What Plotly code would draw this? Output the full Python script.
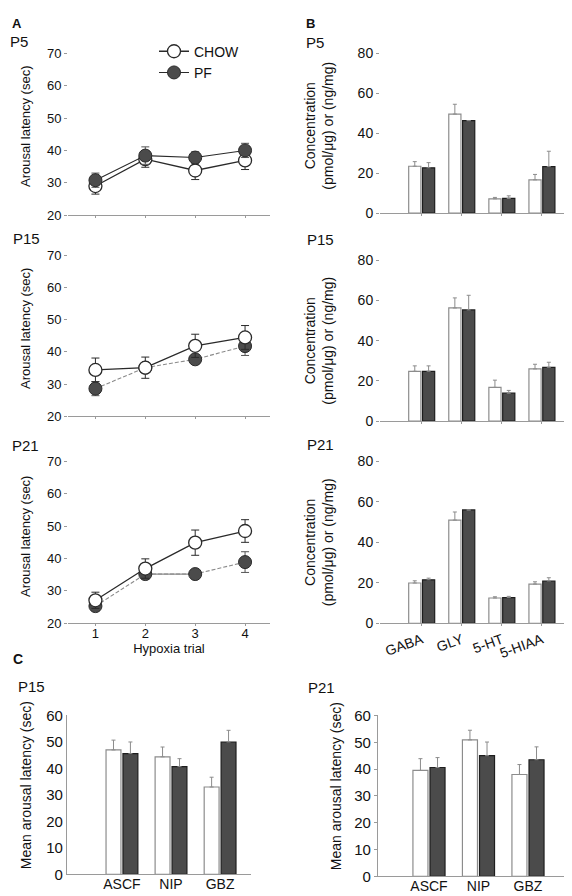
import plotly.graph_objects as go

# ---------------- data ----------------
trials = [1, 2, 3, 4]
# Panel A: arousal latency (sec)
p5_chow = [29.0, 37.3, 33.8, 36.9]
p5_chow_err = [2.5, 2.5, 2.8, 2.8]
p5_pf = [30.8, 38.4, 37.8, 40.0]
p5_pf_err = [2.2, 2.7, 1.8, 2.2]

p15_chow = [34.4, 35.1, 41.9, 44.5]
p15_chow_err = [3.7, 3.3, 3.6, 3.7]
p15_pf = [28.6, 35.1, 37.7, 41.8]
p15_pf_err = [2.2, 1.0, 1.5, 2.9]

p21_chow = [27.1, 36.9, 44.9, 48.5]
p21_chow_err = [2.5, 3.0, 3.9, 3.5]
p21_pf = [25.3, 35.2, 35.2, 38.9]
p21_pf_err = [1.0, 1.5, 0.5, 3.2]

# Panel B: concentrations
analytes = ["GABA", "GLY", "5-HT", "5-HIAA"]
b5_chow = [23.5, 49.6, 7.2, 16.7]
b5_chow_err = [2.3, 4.9, 0.7, 2.7]
b5_pf = [22.7, 46.3, 7.4, 23.3]
b5_pf_err = [2.6, 0.0, 1.3, 7.7]

b15_chow = [24.8, 56.3, 16.8, 26.0]
b15_chow_err = [2.7, 5.0, 3.6, 2.3]
b15_pf = [24.8, 55.3, 13.9, 26.8]
b15_pf_err = [2.7, 7.3, 1.4, 2.5]

b21_chow = [19.9, 51.0, 12.5, 19.4]
b21_chow_err = [1.1, 4.0, 0.6, 1.1]
b21_pf = [21.5, 56.0, 12.7, 20.9]
b21_pf_err = [0.8, 0.0, 0.6, 1.6]

# Panel C: mean arousal latency
drugs = ["ASCF", "NIP", "GBZ"]
c15_chow = [47.0, 44.4, 33.0]
c15_chow_err = [3.7, 3.7, 3.7]
c15_pf = [45.6, 40.7, 50.0]
c15_pf_err = [4.4, 3.0, 4.4]

c21_chow = [39.5, 50.9, 38.0]
c21_chow_err = [4.4, 3.6, 3.7]
c21_pf = [40.6, 45.0, 43.5]
c21_pf_err = [3.7, 5.1, 4.8]

# ---------------- styling ----------------
FONT = "Liberation Sans, Arial, sans-serif"
AXC = "#9a9a9a"
DARK = "#2a2a2a"
PFC = "#4b4b4b"
GREYLINE = "#8a8a8a"
W, H = 572, 896


def px_x(a, b):
    return [a / W, b / W]


def px_y(top, bottom):
    return [1 - bottom / H, 1 - top / H]


fig = go.Figure()


def line_traces(idx, chow, chow_err, pf, pf_err, pf_dash, pf_color, pf_first, legend, solid_seg=None):
    xa = "x" if idx == 1 else f"x{idx}"
    ya = "y" if idx == 1 else f"y{idx}"
    chow_tr = go.Scatter(
        x=trials, y=chow, mode="lines+markers", name="CHOW",
        showlegend=legend, legendrank=1,
        line=dict(color=DARK, width=1.3),
        marker=dict(size=13, color="white", line=dict(color=DARK, width=1.3)),
        error_y=dict(type="data", array=chow_err, color=DARK, thickness=1, width=4),
        xaxis=xa, yaxis=ya, cliponaxis=False,
    )
    pf_tr = go.Scatter(
        x=trials, y=pf, mode="lines+markers", name="PF",
        showlegend=legend, legendrank=2,
        line=dict(color=pf_color, width=1.1, dash=pf_dash),
        marker=dict(size=13, color=PFC, line=dict(color=DARK, width=1)),
        error_y=dict(type="data", array=pf_err, color="#555555", thickness=1, width=4),
        xaxis=xa, yaxis=ya, cliponaxis=False,
    )
    if pf_first:
        if solid_seg is not None:
            a, b = solid_seg
            fig.add_trace(go.Scatter(
                x=trials[a:b], y=pf[a:b], mode="lines", showlegend=False,
                line=dict(color=GREYLINE, width=1.3), xaxis=xa, yaxis=ya,
                hoverinfo="skip"))
        fig.add_trace(pf_tr)
        fig.add_trace(chow_tr)
    else:
        fig.add_trace(chow_tr)
        fig.add_trace(pf_tr)


line_traces(1, p5_chow, p5_chow_err, p5_pf, p5_pf_err, "solid", DARK, False, True)
line_traces(2, p15_chow, p15_chow_err, p15_pf, p15_pf_err, "4px,2px", GREYLINE, True, False)
line_traces(3, p21_chow, p21_chow_err, p21_pf, p21_pf_err, "4px,2px", GREYLINE, True, False,
            solid_seg=(1, 3))


def bar_traces(idx, cats, chow, chow_err, pf, pf_err):
    xa = f"x{idx}"
    ya = f"y{idx}"
    fig.add_trace(go.Bar(
        x=cats, y=chow, name="CHOW", showlegend=False,
        marker=dict(color="white", line=dict(color="#8c8c8c", width=1.2)),
        error_y=dict(type="data", array=chow_err, arrayminus=[0] * len(cats),
                     symmetric=False, color="#8c8c8c", thickness=1, width=2),
        xaxis=xa, yaxis=ya, offsetgroup="a",
    ))
    fig.add_trace(go.Bar(
        x=cats, y=pf, name="PF", showlegend=False,
        marker=dict(color=PFC, line=dict(color="#1e1e1e", width=1.2)),
        error_y=dict(type="data", array=pf_err, arrayminus=[0] * len(cats),
                     symmetric=False, color="#8c8c8c", thickness=1, width=2),
        xaxis=xa, yaxis=ya, offsetgroup="b",
    ))


bar_traces(4, analytes, b5_chow, b5_chow_err, b5_pf, b5_pf_err)
bar_traces(5, analytes, b15_chow, b15_chow_err, b15_pf, b15_pf_err)
bar_traces(6, analytes, b21_chow, b21_chow_err, b21_pf, b21_pf_err)
bar_traces(7, drugs, c15_chow, c15_chow_err, c15_pf, c15_pf_err)
bar_traces(8, drugs, c21_chow, c21_chow_err, c21_pf, c21_pf_err)

tickA = dict(family=FONT, size=13, color="#111")
tickB = dict(family=FONT, size=14, color="#111")
tickC = dict(family=FONT, size=15, color="#111")

layout = dict(
    width=W, height=H, margin=dict(l=0, r=0, t=0, b=0),
    paper_bgcolor="white", plot_bgcolor="white",
    font=dict(family=FONT, color="#111"),
    barmode="group", bargap=0.31, bargroupgap=0.12,
    showlegend=True,
    legend=dict(x=146 / W, y=1 - 19 / H, xanchor="left", yanchor="top",
                bgcolor="rgba(0,0,0,0)", font=dict(family=FONT, size=14),
                tracegroupgap=0, itemwidth=30),
)

# Panel A axes: (top of range at 75, bottom 20)
a_domains = [px_y(20.5, 202), px_y(226.6, 407), px_y(436.5, 618)]
for i, dom in enumerate(a_domains, start=1):
    xk = "xaxis" if i == 1 else f"xaxis{i}"
    yk = "yaxis" if i == 1 else f"yaxis{i}"
    layout[xk] = dict(
        domain=px_x(60, 262), range=[0.45, 4.5], anchor="y" if i == 1 else f"y{i}",
        showline=True, linecolor=AXC, linewidth=1.2, ticks="outside", ticklen=2,
        tickcolor=AXC, tickvals=trials, showticklabels=(i == 3), showgrid=False,
        zeroline=False, tickfont=tickA, ticklabelstandoff=-4,
    )
    layout[yk] = dict(
        domain=dom, range=[20, 75], anchor="x" if i == 1 else f"x{i}",
        showline=False, ticks="outside", ticklen=3, tickcolor=AXC,
        tickvals=[20, 30, 40, 50, 60, 70], showgrid=False, zeroline=False,
        tickfont=tickA,
    )
layout["xaxis3"]["title"] = dict(text="Hypoxia trial", font=dict(family=FONT, size=13, color="#111"),
                                 standoff=0)

# Panel B axes
b_specs = [(4, px_y(21.7, 200), 87.5), (5, px_y(248, 412), 80), (6, px_y(453, 618), 80)]
for j, dom, top in b_specs:
    layout[f"xaxis{j}"] = dict(
        domain=px_x(372, 570), range=[-1.04, 3.9], anchor=f"y{j}",
        showline=True, linecolor=AXC, linewidth=1.2, ticks="outside", ticklen=2,
        tickcolor=AXC, showticklabels=(j == 6), showgrid=False, zeroline=False,
        tickfont=dict(family=FONT, size=14, color="#111"), tickangle=-20,
    )
    layout[f"yaxis{j}"] = dict(
        domain=dom, range=[0, top], anchor=f"x{j}",
        showline=False, ticks="outside", ticklen=3, tickcolor=AXC,
        tickvals=[0, 20, 40, 60, 80], showgrid=False, zeroline=False,
        tickfont=tickB,
        title=dict(text="Concentration<br>(pmol/\u03bcg) or (ng/mg)",
                   font=dict(family=FONT, size=14, color="#111"), standoff=20),
    )

# Panel C axes
c_specs = [(7, px_x(59, 243), px_y(712, 874), [-1.12, 2.63], 0),
           (8, px_x(370, 567), px_y(712, 876), [-1.03, 2.95], 3)]
for j, xdom, ydom, xr, tl in c_specs:
    layout[f"xaxis{j}"] = dict(
        domain=xdom, range=xr, anchor=f"y{j}",
        showline=True, linecolor=AXC, linewidth=1.2, ticks="", showgrid=False,
        zeroline=False, tickfont=dict(family=FONT, size=14, color="#111"),
        ticklabelstandoff=-3,
    )
    layout[f"yaxis{j}"] = dict(
        domain=ydom, range=[0, 60], anchor=f"x{j}",
        showline=True, linecolor=AXC, linewidth=1.2,
        ticks="outside" if tl else "", ticklen=tl, tickcolor=AXC,
        tickvals=[0, 10, 20, 30, 40, 50, 60], showgrid=False, zeroline=False,
        tickfont=tickC,
    )

fig.update_layout(**layout)

# Rotated y titles for panels A and C (annotations give exact placement)
ytitles = [
    ("Arousal latency (sec)", 18, 112, 13),
    ("Arousal latency (sec)", 18, 318, 13),
    ("Arousal latency (sec)", 18, 530, 13),
    ("Mean arousal latency (sec)", 18, 783, 14),
    ("Mean arousal latency (sec)", 328, 784, 14),
]
for txt, x, y, s in ytitles:
    fig.add_annotation(text=txt, x=x / W, y=1 - y / H, xref="paper", yref="paper",
                       xanchor="center", yanchor="middle", textangle=-90, showarrow=False,
                       font=dict(family=FONT, size=s, color="#111"))

labels = [
    ("<b>A</b>", 2, 7, 13), ("P5", 0, 25, 15),
    ("<b>B</b>", 296, 7, 13), ("P5", 296, 26, 15),
    ("P15", 3, 226, 15), ("P15", 297, 227, 15),
    ("P21", 2, 437, 15), ("P21", 297, 436, 15),
    ("<b>C</b>", 3, 654, 14), ("P15", 8, 682, 15), ("P21", 298, 683, 15),
]
for txt, x, y, s in labels:
    fig.add_annotation(text=txt, x=x / W, y=1 - y / H, xref="paper", yref="paper",
                       xanchor="left", yanchor="middle", showarrow=False,
                       font=dict(family=FONT, size=s, color="#111"))

fig.write_html("out.html")
